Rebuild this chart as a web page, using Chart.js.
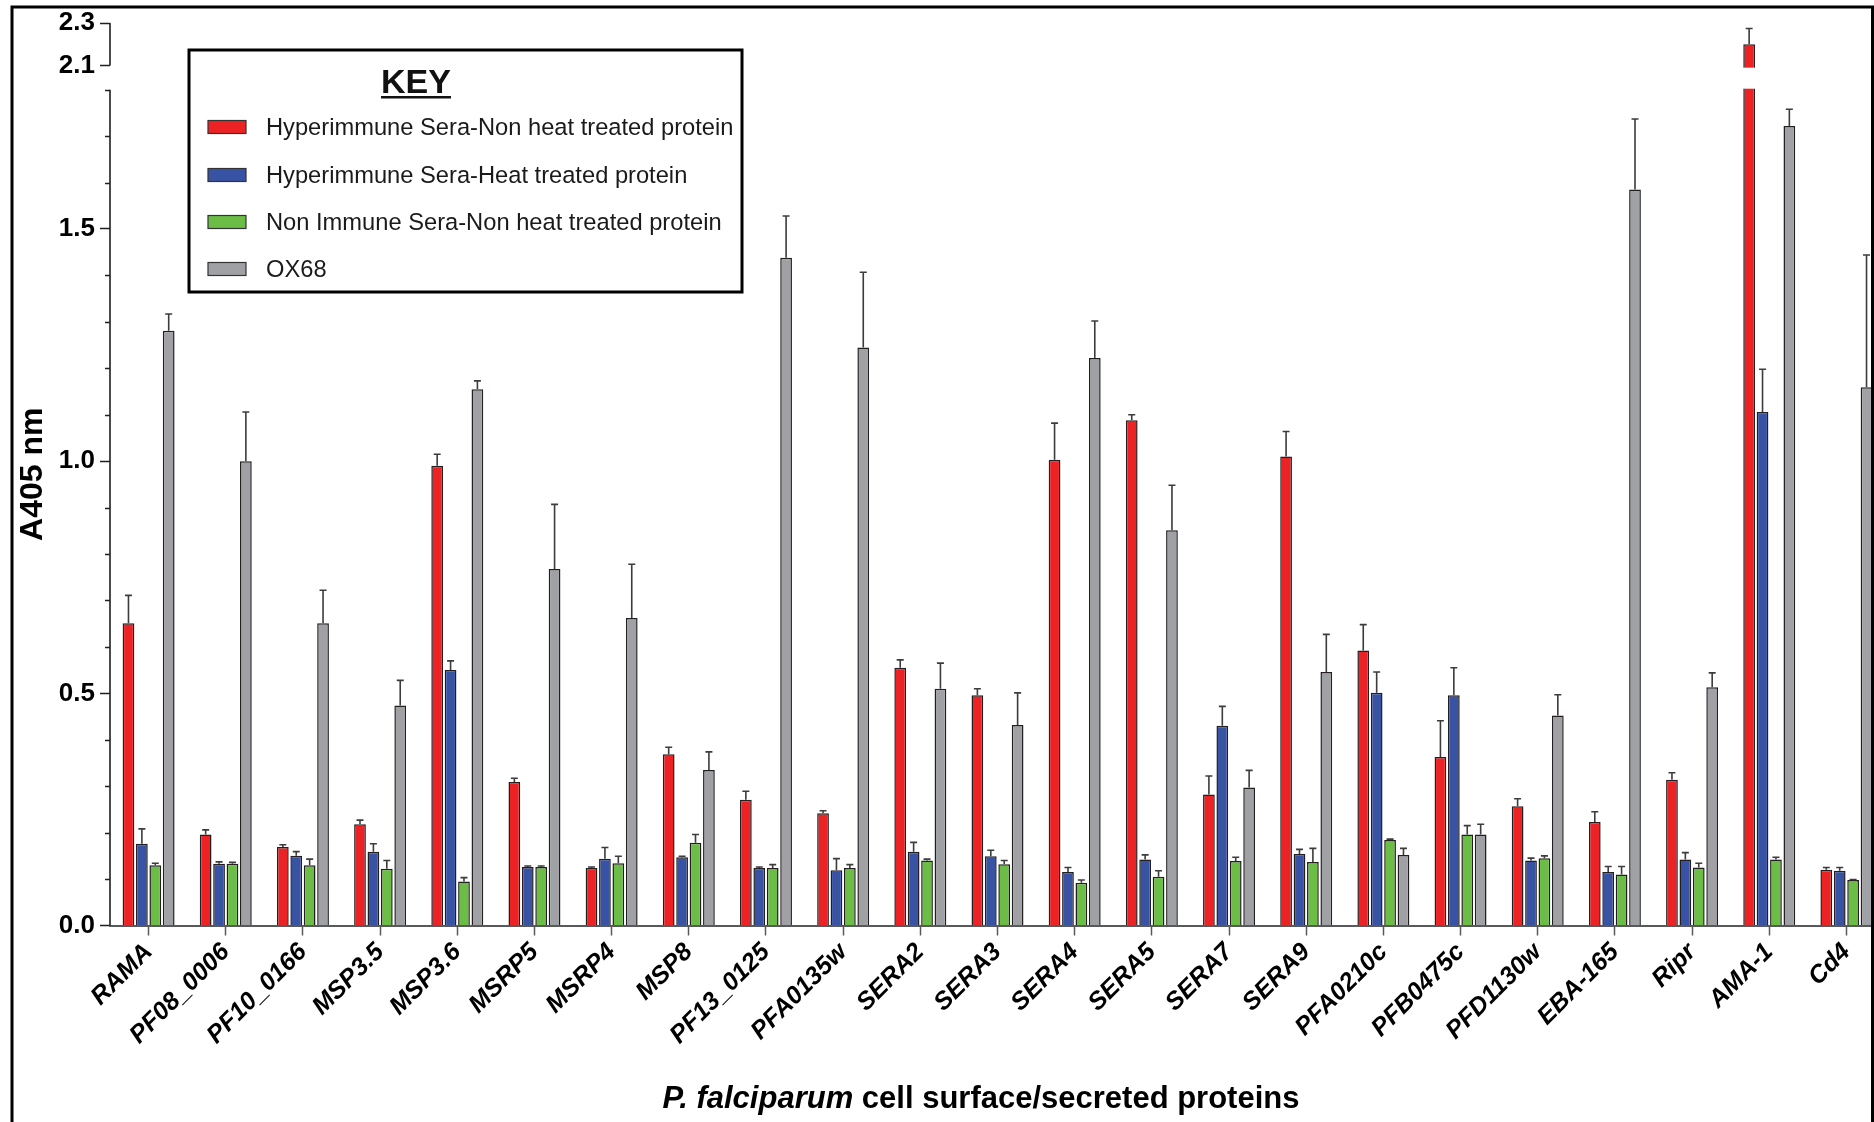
<!DOCTYPE html>
<html>
<head>
<meta charset="utf-8">
<script src="https://cdn.jsdelivr.net/npm/chart.js@4.4.1/dist/chart.umd.min.js"></script>
<style>
  html, body { margin: 0; padding: 0; overflow: hidden; background: #fff; width: 1874px; height: 1122px; }
  canvas { display: block; }
</style>
</head>
<body>
<canvas id="chart" width="1890" height="1122"></canvas>
<script>
// ---- data ----
const categories = ['RAMA', 'PF08_0006', 'PF10_0166', 'MSP3.5', 'MSP3.6', 'MSRP5', 'MSRP4', 'MSP8',
  'PF13_0125', 'PFA0135w', 'SERA2', 'SERA3', 'SERA4', 'SERA5', 'SERA7', 'SERA9', 'PFA0210c',
  'PFB0475c', 'PFD1130w', 'EBA-165', 'Ripr', 'AMA-1', 'Cd4'];

const seriesNames = [
  'Hyperimmune Sera-Non heat treated protein',
  'Hyperimmune Sera-Heat treated protein',
  'Non Immune Sera-Non heat treated protein',
  'OX68'
];

// mean absorbance
const hyperNonHeat = [0.651, 0.196, 0.169, 0.218, 0.990, 0.309, 0.124, 0.369, 0.271, 0.242, 0.555, 0.496,
  1.003, 1.088, 0.282, 1.010, 0.592, 0.363, 0.257, 0.223, 0.314, 2.200, 0.120];
const hyperHeat = [0.176, 0.133, 0.150, 0.159, 0.550, 0.126, 0.144, 0.147, 0.124, 0.119, 0.159, 0.149,
  0.115, 0.142, 0.430, 0.154, 0.501, 0.496, 0.140, 0.115, 0.142, 1.106, 0.118];
const nonImmune = [0.130, 0.133, 0.130, 0.122, 0.095, 0.126, 0.134, 0.178, 0.124, 0.124, 0.140, 0.132,
  0.092, 0.105, 0.139, 0.137, 0.184, 0.196, 0.145, 0.110, 0.125, 0.142, 0.098];
const ox68 = [1.281, 1.000, 0.651, 0.474, 1.155, 0.768, 0.662, 0.335, 1.438, 1.245, 0.510, 0.432,
  1.222, 0.851, 0.297, 0.546, 0.152, 0.196, 0.452, 1.585, 0.513, 1.722, 1.159];

// upper error (SEM)
const hyperNonHeatErr = [0.060, 0.010, 0.005, 0.009, 0.025, 0.008, 0.002, 0.015, 0.018, 0.005, 0.017, 0.014,
  0.079, 0.012, 0.040, 0.054, 0.056, 0.078, 0.016, 0.022, 0.015, 0.074, 0.005];
const hyperHeatErr = [0.032, 0.004, 0.009, 0.017, 0.020, 0.002, 0.024, 0.002, 0.002, 0.025, 0.020, 0.013,
  0.010, 0.010, 0.042, 0.010, 0.045, 0.059, 0.005, 0.012, 0.015, 0.092, 0.007];
const nonImmuneErr = [0.004, 0.003, 0.013, 0.018, 0.008, 0.002, 0.015, 0.018, 0.007, 0.007, 0.003, 0.008,
  0.006, 0.013, 0.008, 0.029, 0.002, 0.019, 0.005, 0.017, 0.009, 0.005, 0.001];
const ox68Err = [0.036, 0.106, 0.071, 0.054, 0.018, 0.139, 0.116, 0.039, 0.090, 0.162, 0.055, 0.069,
  0.080, 0.097, 0.037, 0.081, 0.014, 0.022, 0.045, 0.152, 0.031, 0.036, 0.285];

// y axis ticks (axis is broken between 1.8 and 2.1)
const yTickValues = [0.0, 0.1, 0.2, 0.3, 0.4, 0.5, 0.6, 0.7, 0.8, 0.9, 1.0, 1.1, 1.2, 1.3, 1.4, 1.5,
  1.6, 1.7, 1.8, 2.1, 2.3];
const yLabelledTicks = [0.0, 0.5, 1.0, 1.5, 2.1, 2.3];

// ---- broken linear scale ----
const BREAK_FROM = 1.8;      // top of lower segment
const BREAK_TO = 2.09;       // bottom of upper segment
const LOW_FRACTION = 0.9261; // share of the plot height used by the lower segment
const GAP_FRACTION = 0.0244; // share used by the gap

class BrokenLinearScale extends Chart.LinearScale {
  getPixelForValue(value) {
    if (value === null || value === undefined || isNaN(value)) return NaN;
    const h = this.bottom - this.top;
    const high = 1 - LOW_FRACTION - GAP_FRACTION;
    let f;
    if (value <= BREAK_FROM) {
      f = (value - this.min) / (BREAK_FROM - this.min) * LOW_FRACTION;
    } else if (value < BREAK_TO) {
      f = LOW_FRACTION + (value - BREAK_FROM) / (BREAK_TO - BREAK_FROM) * GAP_FRACTION;
    } else {
      f = LOW_FRACTION + GAP_FRACTION + (value - BREAK_TO) / (this.max - BREAK_TO) * high;
    }
    return this.bottom - f * h;
  }
  getValueForPixel(pixel) {
    const h = this.bottom - this.top;
    const f = (this.bottom - pixel) / h;
    const high = 1 - LOW_FRACTION - GAP_FRACTION;
    if (f <= LOW_FRACTION) return this.min + f / LOW_FRACTION * (BREAK_FROM - this.min);
    if (f < LOW_FRACTION + GAP_FRACTION) return BREAK_FROM + (f - LOW_FRACTION) / GAP_FRACTION * (BREAK_TO - BREAK_FROM);
    return BREAK_TO + (f - LOW_FRACTION - GAP_FRACTION) / high * (this.max - BREAK_TO);
  }
}
BrokenLinearScale.id = 'brokenLinear';
BrokenLinearScale.defaults = Chart.LinearScale.defaults;
Chart.register(BrokenLinearScale);

const FONT = "'Liberation Sans', Arial, Helvetica, sans-serif";
const INK = '#231f20';

// ---- plugins ----
const errorBarsPlugin = {
  id: 'errorBars',
  afterDatasetsDraw(chart) {
    const ctx = chart.ctx;
    const y = chart.scales.y;
    chart.data.datasets.forEach((ds, i) => {
      const meta = chart.getDatasetMeta(i);
      meta.data.forEach((bar, j) => {
        const v = ds.data[j];
        // white gap where the bar crosses the axis break
        if (v > BREAK_FROM) {
          const yTop = y.getPixelForValue(BREAK_TO);
          const yBot = y.getPixelForValue(BREAK_FROM);
          ctx.save();
          ctx.fillStyle = '#ffffff';
          ctx.fillRect(bar.x - bar.width / 2 - 2, yTop, bar.width + 4, yBot - yTop - 1);
          ctx.restore();
        }
        const e = ds.errorBars[j];
        const yt = y.getPixelForValue(v + e);
        ctx.save();
        ctx.strokeStyle = '#3c3c3c';
        ctx.lineWidth = 1.6;
        ctx.beginPath();
        ctx.moveTo(bar.x, bar.y);
        ctx.lineTo(bar.x, yt);
        ctx.moveTo(bar.x - 3.5, yt);
        ctx.lineTo(bar.x + 3.5, yt);
        ctx.stroke();
        ctx.restore();
      });
    });
  }
};

const decorPlugin = {
  id: 'decor',
  afterDraw(chart) {
    const ctx = chart.ctx;
    const y = chart.scales.y;
    const left = chart.chartArea.left;

    // y axis line in two segments
    ctx.save();
    ctx.strokeStyle = INK;
    ctx.lineWidth = 1.6;
    ctx.beginPath();
    ctx.moveTo(left, y.getPixelForValue(0));
    ctx.lineTo(left, y.getPixelForValue(BREAK_FROM));
    ctx.moveTo(left, y.getPixelForValue(2.1));
    ctx.lineTo(left, y.getPixelForValue(2.3));
    ctx.stroke();
    // minor ticks
    ctx.lineWidth = 1.4;
    ctx.beginPath();
    yTickValues.forEach(v => {
      if (yLabelledTicks.includes(v)) return;
      const py = Math.round(y.getPixelForValue(v)) + 0.5;
      ctx.moveTo(left - 5, py);
      ctx.lineTo(left, py);
    });
    ctx.stroke();
    ctx.restore();

    // key box
    const box = { x: 189, y: 50, w: 553, h: 242 };
    ctx.save();
    ctx.fillStyle = '#ffffff';
    ctx.fillRect(box.x, box.y, box.w, box.h);
    ctx.strokeStyle = '#000';
    ctx.lineWidth = 3;
    ctx.strokeRect(box.x, box.y, box.w, box.h);
    ctx.fillStyle = '#111';
    ctx.font = `bold 34px ${FONT}`;
    ctx.textAlign = 'center';
    ctx.textBaseline = 'alphabetic';
    ctx.fillText('KEY', 416, 93);
    const kw = ctx.measureText('KEY').width;
    ctx.fillRect(416 - kw / 2, 96, kw, 2.5);
    ctx.font = `23.7px ${FONT}`;
    ctx.textAlign = 'left';
    ctx.textBaseline = 'middle';
    const rows = [127, 175, 222, 269];
    chart.data.datasets.forEach((ds, i) => {
      ctx.fillStyle = ds.backgroundColor;
      ctx.fillRect(208, rows[i] - 6.5, 38, 13);
      ctx.strokeStyle = '#333';
      ctx.lineWidth = 1.2;
      ctx.strokeRect(208, rows[i] - 6.5, 38, 13);
      ctx.fillStyle = '#1a1a1a';
      ctx.fillText(ds.label, 266, rows[i] + 1);
    });
    ctx.restore();

    // x axis title (italic genus name)
    ctx.save();
    ctx.fillStyle = '#000';
    ctx.textBaseline = 'alphabetic';
    const a = 'P. falciparum', b = ' cell surface/secreted proteins';
    ctx.font = `italic bold 31px ${FONT}`;
    const wa = ctx.measureText(a).width;
    ctx.font = `bold 31px ${FONT}`;
    const wb = ctx.measureText(b).width;
    const x0 = 981 - (wa + wb) / 2;
    ctx.font = `italic bold 31px ${FONT}`;
    ctx.fillText(a, x0, 1108);
    ctx.font = `bold 31px ${FONT}`;
    ctx.fillText(b, x0 + wa, 1108);
    ctx.restore();

    // outer frame
    ctx.save();
    ctx.strokeStyle = '#000';
    ctx.lineWidth = 3;
    ctx.beginPath();
    ctx.moveTo(12, 1130);
    ctx.lineTo(12, 7);
    ctx.lineTo(1872.5, 7);
    ctx.lineTo(1872.5, 1130);
    ctx.stroke();
    ctx.restore();
  }
};

// ---- chart ----
const colors = ['#ed2224', '#3953a4', '#6bbd45', '#a0a1a5'];
const values = [hyperNonHeat, hyperHeat, nonImmune, ox68];
const errors = [hyperNonHeatErr, hyperHeatErr, nonImmuneErr, ox68Err];

new Chart(document.getElementById('chart'), {
  type: 'bar',
  data: {
    labels: categories,
    datasets: seriesNames.map((name, i) => ({
      label: name,
      data: values[i],
      errorBars: errors[i],
      backgroundColor: colors[i],
      borderColor: INK,
      borderWidth: 1.5,
      categoryPercentage: 0.695,
      barPercentage: 0.875
    }))
  },
  options: {
    responsive: false,
    animation: false,
    devicePixelRatio: 1,
    layout: { padding: { top: 23, right: 5, bottom: 0, left: 0 } },
    plugins: { legend: { display: false }, tooltip: { enabled: false } },
    scales: {
      x: {
        offset: true,
        afterFit(scale) { scale.height = 196.5; },
        grid: { drawOnChartArea: false, offset: false, tickLength: 10, tickColor: '#58595b', tickWidth: 1.5 },
        border: { display: true, color: '#58595b', width: 2 },
        ticks: {
          autoSkip: false, minRotation: 45, maxRotation: 45, padding: 2, color: '#000',
          font: { family: FONT, size: 25, weight: 'bold', style: 'italic' }
        }
      },
      y: {
        type: 'brokenLinear',
        min: 0,
        max: 2.3,
        afterFit(scale) { scale.width = 110; },
        afterBuildTicks(scale) { scale.ticks = yTickValues.map(v => ({ value: v })); },
        grid: {
          drawOnChartArea: false, tickLength: 10, tickWidth: 1.5,
          tickColor: c => (c.tick && yLabelledTicks.includes(c.tick.value)) ? INK : 'rgba(0,0,0,0)'
        },
        border: { display: false },
        ticks: {
          autoSkip: false, padding: 5, color: '#000',
          font: { family: FONT, size: 26, weight: 'bold' },
          callback: v => yLabelledTicks.includes(v) ? v.toFixed(1) : ''
        },
        title: {
          display: true, text: 'A405 nm', color: '#000',
          font: { family: FONT, size: 32, weight: 'bold' },
          padding: { top: 14, bottom: 0 }
        }
      }
    }
  },
  plugins: [errorBarsPlugin, decorPlugin]
});
</script>
</body>
</html>
